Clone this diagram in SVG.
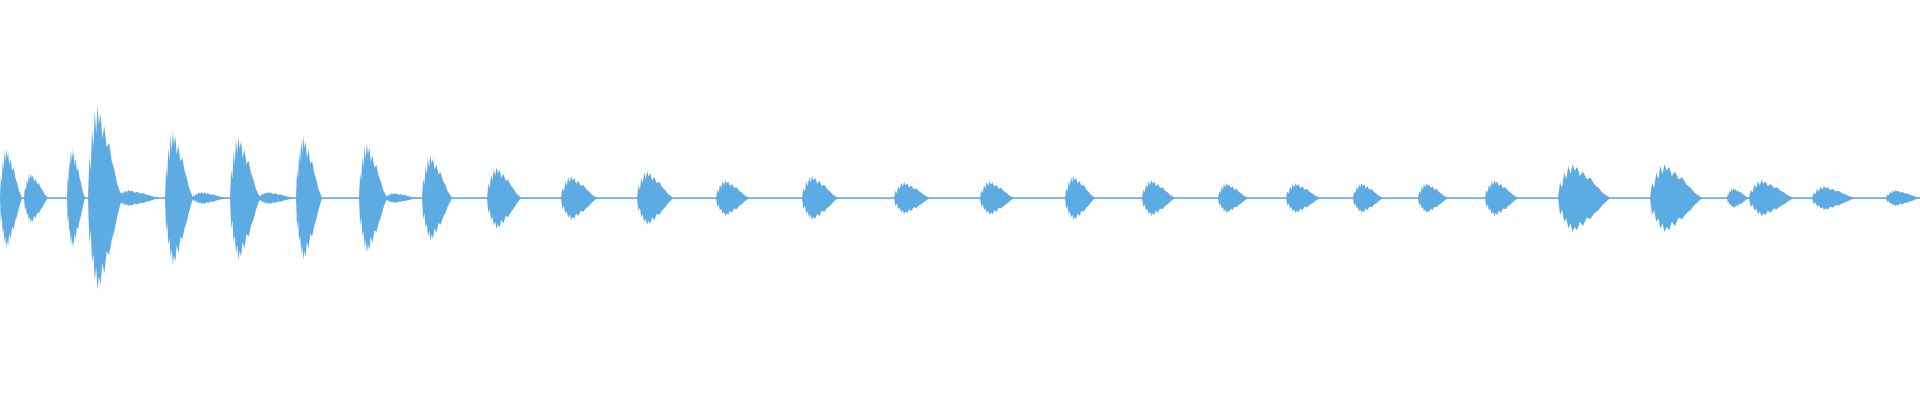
<svg xmlns="http://www.w3.org/2000/svg" width="1920" height="400" viewBox="0 0 1920 400">
<style>.w{fill:#5dabe3}</style>
<defs>
<path id="b" d="M0,0 L0.04,-0.45 L0.08,-0.3 L0.12,-0.75 L0.16,-0.55 L0.2,-0.95 L0.24,-0.7 L0.28,-1 L0.32,-0.8 L0.37,-0.92 L0.42,-0.65 L0.48,-0.78 L0.55,-0.55 L0.62,-0.6 L0.7,-0.4 L0.78,-0.3 L0.86,-0.15 L0.93,-0.08 L1,0 L0.93,0.1 L0.86,0.2 L0.78,0.35 L0.7,0.45 L0.62,0.62 L0.55,0.58 L0.48,0.82 L0.42,0.7 L0.37,0.95 L0.32,0.85 L0.28,1 L0.24,0.75 L0.2,0.9 L0.16,0.6 L0.12,0.7 L0.08,0.35 L0.04,0.5 Z"/>
</defs>
<rect class="w" x="0" y="197.3" width="1920" height="1.6"/>
<g class="w">
<use href="#b" transform="translate(0,198) scale(22,50)"/>
<use href="#b" transform="translate(24,198) scale(24,25)"/>
<use href="#b" transform="translate(67,198) scale(18,50)"/>
<use href="#b" transform="translate(88,198) scale(34,92)"/>
<use href="#b" transform="translate(116,198) scale(44,8)"/>
<use href="#b" transform="translate(165,198) scale(28,67)"/>
<use href="#b" transform="translate(192,198) scale(34,6)"/>
<use href="#b" transform="translate(230,198) scale(30,62)"/>
<use href="#b" transform="translate(258,198) scale(36,6)"/>
<use href="#b" transform="translate(296,198) scale(26,62)"/>
<use href="#b" transform="translate(359,198) scale(28,55)"/>
<use href="#b" transform="translate(385,198) scale(32,5)"/>
<use href="#b" transform="translate(422,198) scale(30,43)"/>
<use href="#b" transform="translate(487,198) scale(34,31)"/>
<use href="#b" transform="translate(561,198) scale(36,22)"/>
<use href="#b" transform="translate(637,198) scale(36,27)"/>
<use href="#b" transform="translate(716,198) scale(33,18)"/>
<use href="#b" transform="translate(802,198) scale(36,22)"/>
<use href="#b" transform="translate(894,198) scale(36,16)"/>
<use href="#b" transform="translate(980,198) scale(34,17)"/>
<use href="#b" transform="translate(1065,198) scale(30,22)"/>
<use href="#b" transform="translate(1142,198) scale(33,18)"/>
<use href="#b" transform="translate(1218,198) scale(30,15)"/>
<use href="#b" transform="translate(1286,198) scale(34,15)"/>
<use href="#b" transform="translate(1353,198) scale(30,15)"/>
<use href="#b" transform="translate(1418,198) scale(30,15)"/>
<use href="#b" transform="translate(1485,198) scale(33,18)"/>
<use href="#b" transform="translate(1558,198) scale(52,34)"/>
<use href="#b" transform="translate(1650,198) scale(52,34)"/>
<use href="#b" transform="translate(1727,198) scale(22,10)"/>
<use href="#b" transform="translate(1749,198) scale(45,18)"/>
<use href="#b" transform="translate(1812,198) scale(43,12)"/>
<use href="#b" transform="translate(1886,198) scale(34,8)"/>
</g>
</svg>
